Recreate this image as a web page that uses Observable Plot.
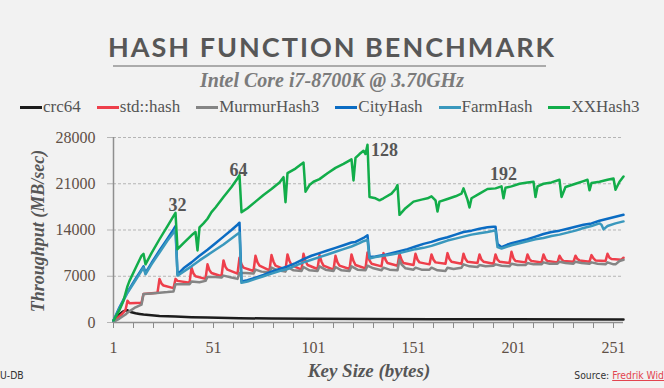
<!DOCTYPE html>
<html><head><meta charset="utf-8">
<script src="https://cdn.jsdelivr.net/npm/d3@7"></script>
<script src="https://cdn.jsdelivr.net/npm/@observablehq/plot@0.6"></script>
<style>
html,body{margin:0;padding:0;background:#f2f2f2;}
#wrap{position:relative;width:664px;height:388px;overflow:hidden;background:#f2f2f2;font-family:"Liberation Serif",serif;}
#title{position:absolute;left:0;top:30px;width:664px;text-align:center;font-family:Lato,"Open Sans",sans-serif;font-weight:700;font-size:27px;letter-spacing:2px;color:#575757;line-height:34px;white-space:nowrap;}
#rule{position:absolute;left:113px;top:65px;width:433px;height:2px;background:#ababab;}
#subtitle{position:absolute;left:0;top:68px;width:664px;text-align:center;font-style:italic;font-weight:700;font-size:20px;color:#7b7b7b;line-height:24px;}
#legend{position:absolute;left:20px;top:97px;display:flex;gap:16px;font-size:17px;color:#555;line-height:20px;white-space:nowrap;}
#legend .item{display:flex;align-items:center;}
#legend .sw{display:inline-block;width:22px;height:3px;margin-right:1px;}
#chart{position:absolute;left:0;top:120px;}
#ylab{position:absolute;left:38px;top:231px;transform:translate(-50%,-50%) rotate(-90deg);font-style:italic;font-weight:700;font-size:18px;color:#565656;white-space:nowrap;}
#xlab{position:absolute;left:369px;top:371px;transform:translate(-50%,-50%);font-style:italic;font-weight:700;font-size:19px;color:#565656;white-space:nowrap;}
#source{position:absolute;right:0;top:369px;font-family:"DejaVu Sans Condensed","Liberation Sans Narrow",sans-serif;font-size:10.3px;color:#333;white-space:nowrap;}
#source span{color:#e2444f;text-decoration:underline;}
#udb{position:absolute;left:0;top:369px;font-family:"DejaVu Sans Condensed","Liberation Sans Narrow",sans-serif;font-size:10.3px;color:#333;}
</style></head>
<body>
<div id="wrap">
  <div id="title">HASH FUNCTION BENCHMARK</div>
  <div id="rule"></div>
  <div id="subtitle">Intel Core i7-8700K @ 3.70GHz</div>
  <div id="legend"></div>
  <div id="chart"></div>
  <div id="ylab">Throughput (MB/sec)</div>
  <div id="xlab">Key Size (bytes)</div>
  <div id="udb">U-DB</div>
  <div id="source">Source: <span>Fredrik Wid</span></div>
</div>
<script>
// ---- data (key size in bytes, throughput in MB/sec) ----
const seriesNames = ["crc64", "std::hash", "MurmurHash3", "CityHash", "FarmHash", "XXHash3"];
const seriesColors = ["#1c1c1c", "#ee3f4b", "#858585", "#0b6cc3", "#3a98bd", "#12ad4a"];

const crc64 = [[1,300],[2,650],[3,950],[4,1250],[5,1500],[6,1700],[7,1800],[8,1850],[9,1700],[10,1550],[12,1400],[14,1300],[16,1200],[20,1100],[24,1000],[32,900],[40,800],[48,740],[64,650],[80,600],[100,560],[128,530],[160,500],[200,480],[256,460]];

const stdHash = [[1,300],[3,700],[5,1200],[7,1900],[8,3300],[9,2900],[15,3000],[16,4300],[23,4500],[24,6600],[25,5900],[26,5600],[31,5200],[32,6600],[33,6300],[39,6000],[40,8300],[41,7400],[42,7000],[47,6600],[48,8800],[49,7900],[50,7500],[55,7000],[56,9400],[57,8400],[58,8000],[63,7400],[64,9800],[65,8800],[66,8300],[71,7800],[72,10100],[73,9100],[74,8600],[79,7900],[80,10200],[81,9200],[82,8600],[87,8000],[88,10300],[89,9300],[90,8700],[95,8000],[96,10400],[97,9300],[98,8700],[103,8100],[104,10200],[105,9200],[106,8600],[111,8000],[112,10100],[113,9100],[114,8600],[119,8100],[120,10300],[121,9300],[122,8700],[127,8200],[128,10600],[129,9400],[130,8900],[135,8500],[136,10500],[137,9500],[138,9000],[143,8600],[144,10400],[145,9500],[146,9000],[151,8700],[152,10400],[153,9500],[154,9100],[159,8800],[160,10300],[161,9500],[162,9100],[167,8900],[168,10500],[169,9600],[170,9200],[175,8900],[176,10400],[177,9600],[178,9200],[183,9000],[184,10300],[185,9500],[186,9200],[191,8900],[192,10300],[193,9500],[194,9200],[199,9000],[200,10700],[201,9700],[202,9300],[207,9100],[208,10300],[209,9600],[210,9300],[215,9100],[216,10300],[217,9600],[218,9300],[223,9100],[224,10100],[225,9600],[226,9300],[231,9200],[232,10100],[233,9600],[234,9400],[239,9200],[240,10200],[241,9700],[242,9400],[247,9300],[248,10400],[249,9800],[250,9600],[255,9500],[256,9800]];

const murmur3 = [[1,100],[4,600],[7,1200],[8,1500],[12,2300],[15,2700],[16,4300],[20,4400],[24,4500],[28,4600],[31,4700],[32,5800],[36,5800],[39,5800],[40,6200],[44,6100],[47,6300],[48,6900],[52,6900],[55,6800],[56,7100],[60,6800],[63,6600],[64,7500],[67,7500],[71,7400],[72,8000],[75,7700],[79,7600],[80,8300],[83,7900],[87,7700],[88,8400],[91,7900],[95,7800],[96,8400],[99,7900],[103,7800],[104,8500],[107,8000],[111,7800],[112,8400],[115,7900],[119,7800],[120,8500],[123,8000],[127,7900],[128,8600],[131,8200],[135,7900],[136,8300],[139,8000],[143,7900],[144,9500],[145,8800],[147,8200],[151,8000],[152,8300],[155,8000],[159,8000],[160,8300],[163,7900],[167,7800],[168,8300],[171,8100],[175,8300],[176,8800],[179,8500],[183,8400],[184,8700],[187,8500],[191,8600],[192,8800],[195,8600],[199,8500],[200,8900],[203,8700],[207,8700],[208,9000],[211,8800],[215,8800],[216,9100],[219,8900],[223,8900],[224,9200],[227,9000],[231,8900],[232,9200],[235,9000],[239,8900],[240,9100],[243,8900],[247,8800],[248,9100],[251,8800],[252,8800],[254,9300],[256,9500]];

const cityHash = [[1,300],[4,2300],[8,4600],[12,6600],[16,8500],[17,7500],[20,9000],[24,10900],[28,12700],[31,14100],[32,14600],[33,7300],[36,8200],[40,9100],[44,10100],[48,11000],[52,12000],[56,13000],[60,14000],[63,14800],[64,15100],[65,6200],[68,6400],[72,6800],[76,7200],[80,7700],[84,8100],[88,8500],[92,9000],[96,9600],[100,10100],[104,10500],[108,10900],[112,11300],[116,11700],[120,12100],[122,12200],[124,12500],[126,12800],[128,13200],[129,9900],[132,10000],[136,10200],[140,10500],[144,10800],[148,11100],[152,11500],[156,11900],[160,12200],[164,12600],[168,12900],[172,13300],[176,13700],[180,13900],[184,14200],[188,14400],[191,14500],[192,14500],[193,11900],[195,11400],[198,11800],[200,12000],[204,12300],[208,12600],[212,13000],[216,13400],[220,13700],[224,13900],[228,14200],[232,14500],[236,14800],[240,15000],[244,15400],[248,15700],[252,16000],[256,16300]];

const farmHash = [[1,300],[4,2200],[8,4500],[12,6400],[16,8300],[17,7300],[20,8800],[24,10600],[28,12400],[31,13600],[32,14100],[33,7100],[36,7700],[40,8500],[44,9400],[48,10200],[52,11000],[56,11800],[60,12700],[63,13400],[64,13600],[65,6000],[68,6200],[72,6600],[76,7000],[80,7400],[84,7800],[88,8100],[92,8600],[96,9100],[100,9500],[104,9900],[108,10300],[112,10700],[116,11100],[120,11500],[124,12000],[126,12300],[128,12500],[129,9700],[132,9900],[136,10100],[140,10300],[144,10500],[148,10800],[152,11100],[156,11300],[160,11600],[164,12000],[168,12400],[172,12700],[176,13000],[180,13300],[184,13500],[188,13700],[191,13900],[192,13900],[193,11400],[195,11200],[198,11500],[200,11700],[204,12000],[208,12300],[212,12600],[216,12800],[220,13100],[224,13300],[228,13600],[232,13900],[236,14300],[240,14600],[244,15000],[245,14800],[246,14100],[248,14600],[252,15000],[256,15300]];

const xxHash3 = [[1,300],[4,1900],[6,3300],[8,5500],[9,6300],[12,8200],[15,10100],[16,10400],[17,8800],[20,10500],[24,12600],[28,14600],[31,16100],[32,16600],[33,11100],[36,12000],[40,13200],[42,13700],[43,10900],[44,14400],[46,15000],[48,15700],[50,16700],[52,17400],[56,19000],[60,20500],[63,21800],[64,22300],[65,16700],[68,17300],[72,18300],[76,19300],[80,20200],[84,21200],[86,22000],[87,18200],[88,22600],[92,23300],[95,24000],[96,24200],[97,19800],[99,20800],[101,21300],[104,21700],[108,22600],[112,23400],[116,24000],[120,24700],[121,21500],[122,24900],[124,25500],[126,26000],[127,25500],[128,26900],[129,19000],[132,18800],[134,18500],[136,18800],[140,19500],[142,20200],[143,20800],[144,16300],[147,17300],[151,18300],[155,18600],[158,18800],[160,19100],[162,18500],[163,16800],[164,18300],[168,18700],[172,19100],[175,19500],[176,20300],[178,18600],[179,17400],[180,18800],[184,19500],[188,20200],[192,20300],[195,20600],[196,18800],[197,20400],[200,20600],[204,21000],[208,21200],[211,21300],[212,19000],[213,20600],[216,21000],[220,21200],[224,21600],[225,19000],[227,20500],[232,21000],[236,21400],[238,21600],[239,20000],[240,21100],[244,21300],[248,21600],[251,21800],[252,20100],[254,21300],[256,22100]];

const yTicks = [0, 7000, 14000, 21000, 28000];
const xTicks = [1, 11, 21, 31, 41, 51, 61, 71, 81, 91, 101, 111, 121, 131, 141, 151, 161, 171, 181, 191, 201, 211, 221, 231, 241, 251];
const xTickLabels = [1, 51, 101, 151, 201, 251];

const annotText = ["32", "64", "128", "192"];
const annotKey = [33, 63.5, 136.5, 196];
const annotValue = [17700, 23100, 26000, 22400];

// ---- build ----
const allSeries = [crc64, stdHash, murmur3, cityHash, farmHash, xxHash3];
const rows = allSeries.flatMap((s, i) => s.map(([k, v]) => ({name: seriesNames[i], key: k, value: v})));
const annots = annotText.map((t, i) => ({text: t, key: annotKey[i], value: annotValue[i]}));

const legend = document.getElementById("legend");
seriesNames.forEach((n, i) => {
  const it = document.createElement("div"); it.className = "item";
  const sw = document.createElement("span"); sw.className = "sw"; sw.style.background = seriesColors[i];
  const tx = document.createElement("span"); tx.textContent = n;
  it.appendChild(sw); it.appendChild(tx); legend.appendChild(it);
});

const chart = Plot.plot({
  width: 664, height: 268,
  marginLeft: 113, marginRight: 41, marginTop: 17, marginBottom: 66,
  style: {background: "transparent", fontFamily: "'Liberation Serif', serif", fontSize: "16px", color: "#5f5046", overflow: "visible"},
  x: {domain: [1, 256]},
  y: {domain: [0, 28000]},
  color: {domain: seriesNames, range: seriesColors},
  marks: [
    Plot.gridY(yTicks.slice(1), {stroke: "#b5b5b5", strokeOpacity: 1, strokeDasharray: "3,2", strokeWidth: 1}),
    Plot.axisY(yTicks, {tickSize: 6, tickPadding: 12, stroke: "#b5b5b5", label: null, tickFormat: d => String(d)}),
    Plot.axisX(xTicks, {tickSize: 6, tickPadding: 13, stroke: "#8a8a8a", label: null, tickFormat: d => xTickLabels.includes(d) ? String(d) : ""}),
    Plot.ruleX([1], {y1: 0, y2: 28000, stroke: "#8f8f8f", strokeWidth: 1.5}),
    Plot.line(rows, {x: "key", y: "value", z: "name", stroke: "name", strokeWidth: 2.5, strokeLinejoin: "round"}),
    Plot.ruleY([0], {stroke: "#8f8f8f", strokeWidth: 1.5}),
    Plot.text(annots, {x: "key", y: "value", text: "text", fontWeight: "bold", fontSize: 18, fill: "#565656"})
  ]
});
document.getElementById("chart").appendChild(chart);
</script>
</body></html>
